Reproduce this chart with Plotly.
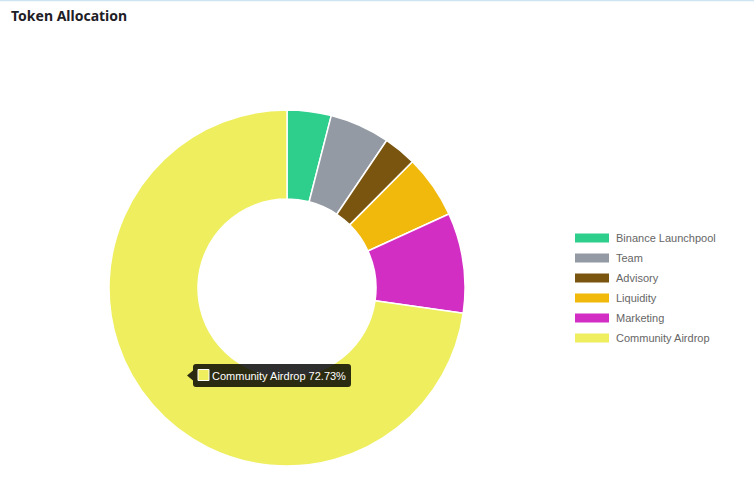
import plotly.graph_objects as go

W, H = 754, 497
categories = ["Binance Launchpool", "Team", "Advisory", "Liquidity", "Marketing", "Community Airdrop"]
values = [44, 60, 33, 63, 100, 800]
colors = ["#2ecf8d", "#939aa4", "#7a5510", "#f0b90b", "#d22ec4", "#eeee5e"]
tooltip_index = 5


def px(x):
    return x / W


def py(y):
    return 1 - y / H


cx, cy, r = 287, 288, 178

fig = go.Figure(go.Pie(
    labels=categories,
    values=values,
    hole=0.5,
    sort=False,
    direction="clockwise",
    rotation=0,
    textinfo="none",
    hoverinfo="skip",
    marker=dict(colors=colors, line=dict(color="#ffffff", width=1.5)),
    domain=dict(x=[px(cx - r), px(cx + r)], y=[py(cy + r), py(cy - r)]),
    showlegend=False,
))

shapes = []
annotations = []

# top border line
shapes.append(dict(type="line", xref="paper", yref="paper", x0=0, x1=1, y0=py(0.5), y1=py(0.5),
                   line=dict(color="#cfe4f3", width=1.5)))

# title
annotations.append(dict(text="<b>Token Allocation</b>", xref="paper", yref="paper",
                        x=px(9), y=py(16), xanchor="left", yanchor="middle", showarrow=False,
                        font=dict(family="Noto Sans, Open Sans, sans-serif", size=14, color="#1e2026")))

# legend
for i, (cat, col) in enumerate(zip(categories, colors)):
    yc = 238 + 20 * i
    shapes.append(dict(type="rect", xref="paper", yref="paper",
                       x0=px(575), x1=px(609), y0=py(yc - 4.5), y1=py(yc + 4.5),
                       fillcolor=col, line=dict(width=0)))
    annotations.append(dict(text=cat, xref="paper", yref="paper", x=px(614), y=py(yc),
                            xanchor="left", yanchor="middle", showarrow=False,
                            font=dict(family="Liberation Sans, Arial, sans-serif", size=11, color="#666666")))

# tooltip
pct = values[tooltip_index] / sum(values) * 100
x0, x1, y0, y1, rr = 193, 351, 364, 387, 3
ym = (y0 + y1) / 2
path = (f"M {px(x0+rr)},{py(y0)} L {px(x1-rr)},{py(y0)} Q {px(x1)},{py(y0)} {px(x1)},{py(y0+rr)} "
        f"L {px(x1)},{py(y1-rr)} Q {px(x1)},{py(y1)} {px(x1-rr)},{py(y1)} "
        f"L {px(x0+rr)},{py(y1)} Q {px(x0)},{py(y1)} {px(x0)},{py(y1-rr)} "
        f"L {px(x0)},{py(ym+5)} L {px(x0-6)},{py(ym)} L {px(x0)},{py(ym-5)} "
        f"L {px(x0)},{py(y0+rr)} Q {px(x0)},{py(y0)} {px(x0+rr)},{py(y0)} Z")
shapes.append(dict(type="path", xref="paper", yref="paper", path=path,
                   fillcolor="rgba(0,0,0,0.82)", line=dict(width=0)))
shapes.append(dict(type="rect", xref="paper", yref="paper",
                   x0=px(198), x1=px(209), y0=py(369.5), y1=py(380.5),
                   fillcolor=colors[tooltip_index], line=dict(color="#ffffff", width=1)))
annotations.append(dict(text=f"{categories[tooltip_index]} {pct:.2f}%", xref="paper", yref="paper",
                        x=px(210), y=py(ym), xanchor="left", yanchor="middle", showarrow=False,
                        font=dict(family="Liberation Sans, Arial, sans-serif", size=11, color="#ffffff")))

fig.update_layout(
    width=W, height=H,
    margin=dict(l=0, r=0, t=0, b=0),
    paper_bgcolor="#ffffff",
    plot_bgcolor="#ffffff",
    shapes=shapes,
    annotations=annotations,
)

fig.write_html("out.html", config={"displayModeBar": False},
               post_script="document.body.style.margin='0';")
